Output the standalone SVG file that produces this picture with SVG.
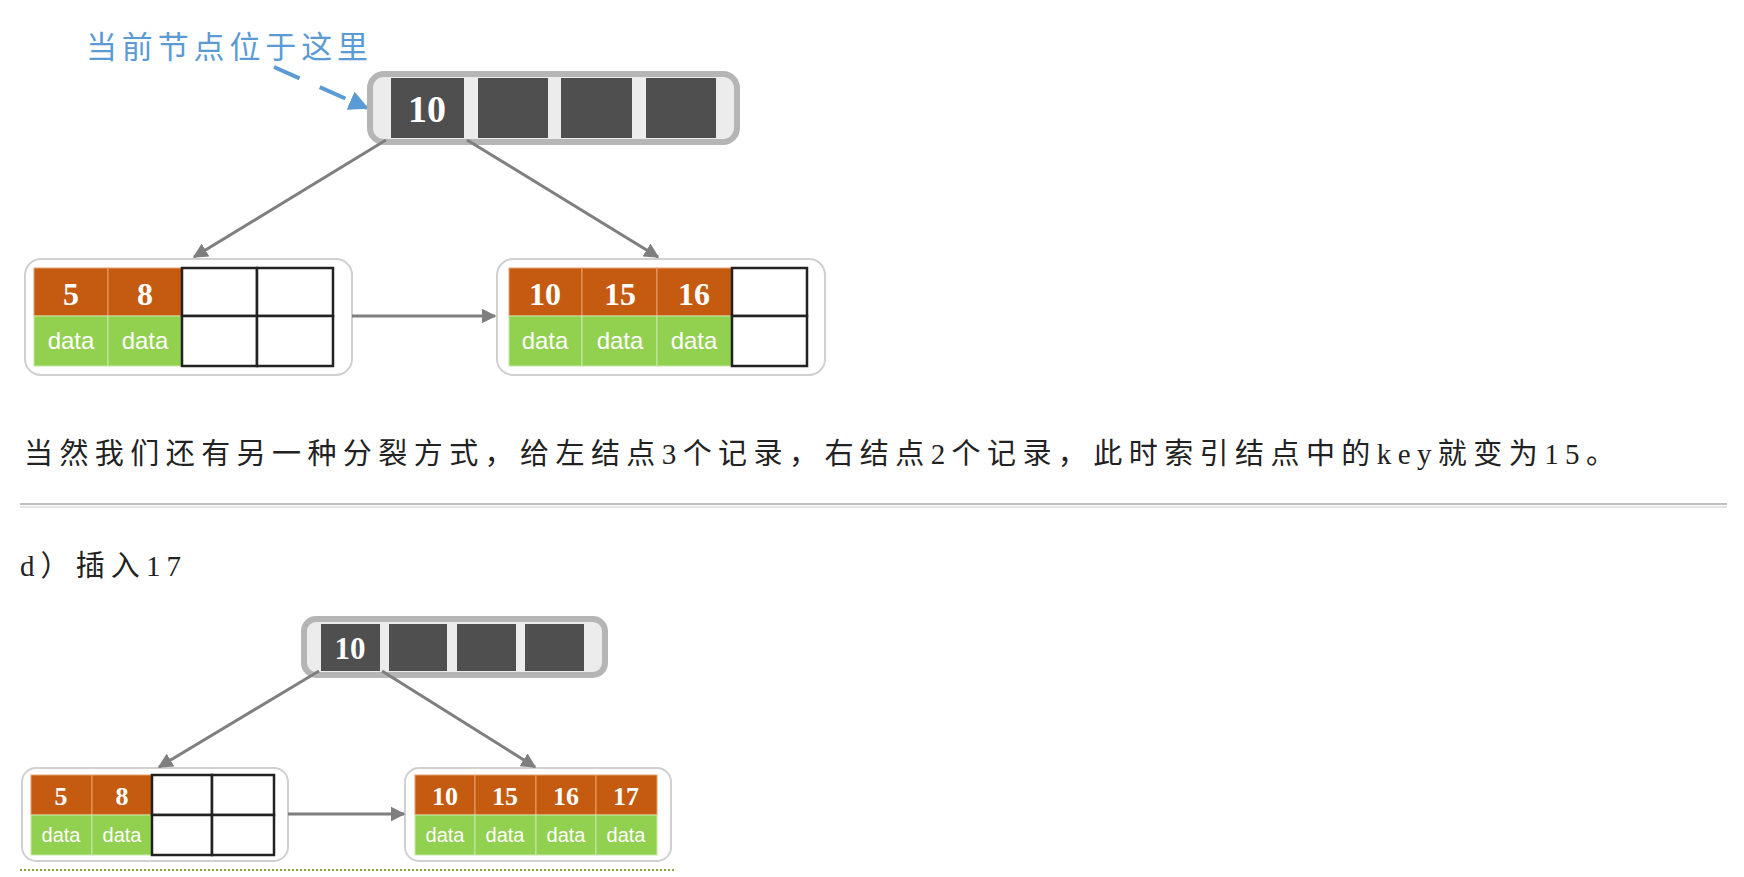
<svg xmlns="http://www.w3.org/2000/svg" width="1744" height="877" viewBox="0 0 1744 877">
<defs>
<marker id="ah" viewBox="0 0 10 10" refX="9" refY="5" markerWidth="5" markerHeight="5" orient="auto"><path d="M0,0 L10,5 L0,10 z" fill="#7f7f7f"/></marker>
<marker id="bh" viewBox="0 0 10 10" refX="9" refY="5" markerWidth="5" markerHeight="5" orient="auto"><path d="M0,0 L10,5 L0,10 z" fill="#5b9bd5"/></marker>
<style>
.inode{fill:#ececec;stroke:#b5b5b5;stroke-width:6}
.dk{fill:#4f4f4f}
.leaf{fill:#fff;stroke:#d0d0d0;stroke-width:2}
.or{fill:#c55a11;stroke:#e8a070;stroke-width:1}
.gr{fill:#92d050;stroke:#c8e8a8;stroke-width:1}
.em{fill:#fff;stroke:#222;stroke-width:2.5}
.k{font-family:"Liberation Serif",serif;font-weight:bold;fill:#fff;text-anchor:middle}
.d{font-family:"Liberation Sans Narrow","Liberation Sans",sans-serif;fill:#fff;text-anchor:middle}
.c{stroke:#7f7f7f;stroke-width:3;fill:none;marker-end:url(#ah)}
.t{font-family:"Liberation Serif","Noto Sans CJK SC",serif;fill:#222}
</style>
</defs>
<rect width="1744" height="877" fill="#fff"/>
<text x="86" y="58" font-family="Noto Sans CJK SC,sans-serif" font-size="31" fill="#5b9bd5" textLength="282">当前节点位于这里</text>
<path d="M274,67 L367,108" stroke="#5b9bd5" stroke-width="4" stroke-dasharray="28,22" fill="none" marker-end="url(#bh)"/>

<g id="root1">
<rect class="inode" x="370" y="74" width="367" height="68" rx="14"/>
<rect class="dk" x="391" y="78" width="73" height="60"/>
<rect class="dk" x="478" y="78" width="70" height="60"/>
<rect class="dk" x="561" y="78" width="71" height="60"/>
<rect class="dk" x="646" y="78" width="70" height="60"/>
<text class="k" x="427" y="122" font-size="38">10</text>
</g>
<g id="leafL1">
<rect class="leaf" x="25" y="259" width="327" height="116" rx="16"/>
<rect class="or" x="34" y="268" width="74" height="48"/><rect class="or" x="108" y="268" width="74" height="48"/>
<rect class="gr" x="34" y="316" width="74" height="50"/><rect class="gr" x="108" y="316" width="74" height="50"/>
<rect class="em" x="182" y="268" width="75" height="48"/><rect class="em" x="257" y="268" width="76" height="48"/>
<rect class="em" x="182" y="316" width="75" height="50"/><rect class="em" x="257" y="316" width="76" height="50"/>
<text class="k" x="71" y="305" font-size="32">5</text><text class="k" x="145" y="305" font-size="32">8</text>
<text class="d" x="71" y="349" font-size="24">data</text><text class="d" x="145" y="349" font-size="24">data</text>
</g>
<g id="leafR1">
<rect class="leaf" x="497" y="259" width="328" height="116" rx="16"/>
<rect class="or" x="509" y="268" width="73" height="48"/><rect class="or" x="582" y="268" width="75" height="48"/><rect class="or" x="657" y="268" width="75" height="48"/>
<rect class="gr" x="509" y="316" width="73" height="50"/><rect class="gr" x="582" y="316" width="75" height="50"/><rect class="gr" x="657" y="316" width="75" height="50"/>
<rect class="em" x="732" y="268" width="75" height="48"/><rect class="em" x="732" y="316" width="75" height="50"/>
<text class="k" x="545" y="305" font-size="32">10</text><text class="k" x="620" y="305" font-size="32">15</text><text class="k" x="694" y="305" font-size="32">16</text>
<text class="d" x="545" y="349" font-size="24">data</text><text class="d" x="620" y="349" font-size="24">data</text><text class="d" x="694" y="349" font-size="24">data</text>
</g>

<text class="t" x="24" y="464" font-size="29" textLength="1591">当然我们还有另一种分裂方式，给左结点3个记录，右结点2个记录，此时索引结点中的key就变为15。</text>
<line x1="20" y1="504" x2="1727" y2="504" stroke="#aaa" stroke-width="1.5"/>
<line x1="20" y1="507" x2="1727" y2="507" stroke="#ddd" stroke-width="1.5"/>
<text class="t" x="20" y="576" font-size="29" textLength="161">d）插入17</text>

<g id="root2">
<rect class="inode" x="304" y="619" width="301" height="56" rx="12"/>
<rect class="dk" x="321" y="624" width="59" height="47"/>
<rect class="dk" x="389" y="624" width="58" height="47"/>
<rect class="dk" x="457" y="624" width="59" height="47"/>
<rect class="dk" x="525" y="624" width="59" height="47"/>
<text class="k" x="350" y="659" font-size="31">10</text>
</g>
<g id="leafL2">
<rect class="leaf" x="22" y="768" width="266" height="93" rx="14"/>
<rect class="or" x="31" y="775" width="61" height="40"/><rect class="or" x="92" y="775" width="60" height="40"/>
<rect class="gr" x="31" y="815" width="61" height="40"/><rect class="gr" x="92" y="815" width="60" height="40"/>
<rect class="em" x="152" y="775" width="60" height="40"/><rect class="em" x="212" y="775" width="62" height="40"/>
<rect class="em" x="152" y="815" width="60" height="40"/><rect class="em" x="212" y="815" width="62" height="40"/>
<text class="k" x="61" y="805" font-size="26">5</text><text class="k" x="122" y="805" font-size="26">8</text>
<text class="d" x="61" y="842" font-size="20">data</text><text class="d" x="122" y="842" font-size="20">data</text>
</g>
<g id="leafR2">
<rect class="leaf" x="405" y="768" width="266" height="93" rx="14"/>
<rect class="or" x="415" y="775" width="60" height="40"/><rect class="or" x="475" y="775" width="61" height="40"/><rect class="or" x="536" y="775" width="60" height="40"/><rect class="or" x="596" y="775" width="61" height="40"/>
<rect class="gr" x="415" y="815" width="60" height="40"/><rect class="gr" x="475" y="815" width="61" height="40"/><rect class="gr" x="536" y="815" width="60" height="40"/><rect class="gr" x="596" y="815" width="61" height="40"/>
<text class="k" x="445" y="805" font-size="26">10</text><text class="k" x="505" y="805" font-size="26">15</text><text class="k" x="566" y="805" font-size="26">16</text><text class="k" x="626" y="805" font-size="26">17</text>
<text class="d" x="445" y="842" font-size="20">data</text><text class="d" x="505" y="842" font-size="20">data</text><text class="d" x="566" y="842" font-size="20">data</text><text class="d" x="626" y="842" font-size="20">data</text>
</g>

<g id="connectors">
<line class="c" x1="386" y1="140" x2="194" y2="257"/>
<line class="c" x1="467" y1="140" x2="658" y2="257"/>
<line class="c" x1="352" y1="316" x2="495" y2="316"/>
<line class="c" x1="319" y1="671" x2="159" y2="767"/>
<line class="c" x1="382" y1="671" x2="535" y2="767"/>
<line class="c" x1="288" y1="814" x2="404" y2="814"/>
</g>
<line x1="20" y1="870" x2="675" y2="870" stroke="#8aa040" stroke-width="2" stroke-dasharray="2,2"/>
</svg>
